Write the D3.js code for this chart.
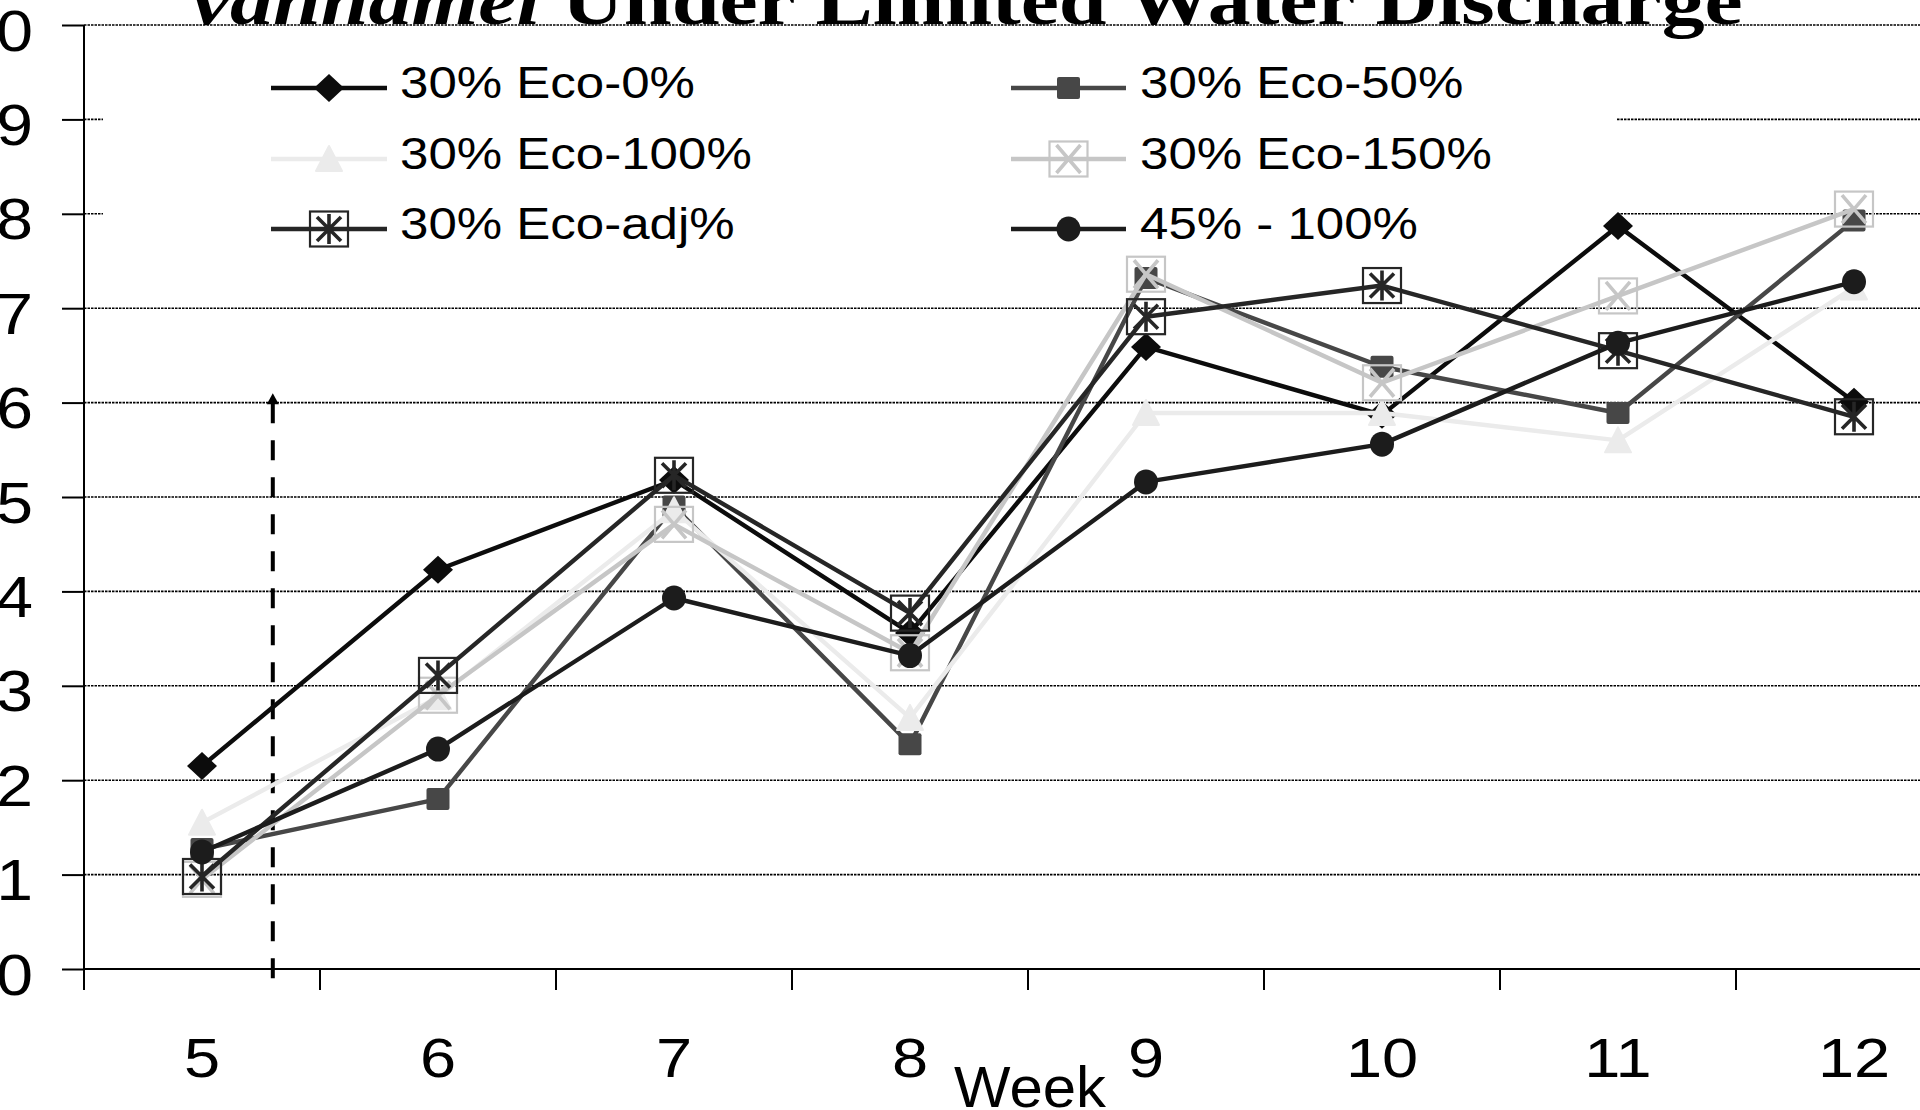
<!DOCTYPE html>
<html>
<head>
<meta charset="utf-8">
<script src="https://cdn.jsdelivr.net/npm/d3@7"></script>
<style>
  html, body { margin: 0; padding: 0; background: #fff; }
  svg { display: block; }
</style>
</head>
<body>
<svg id="chart" width="1920" height="1110"></svg>
<script>
// ---- data ----
const weeks = [5, 6, 7, 8, 9, 10, 11, 12];
const seriesNames = ["30% Eco-0%", "30% Eco-50%", "30% Eco-100%", "30% Eco-150%", "30% Eco-adj%", "45% - 100%"];
const eco0   = [2.15, 4.23, 5.18, 3.56, 6.59, 5.87, 7.87, 6.01];
const eco50  = [1.27, 1.80, 4.90, 2.38, 7.32, 6.38, 5.89, 7.93];
const eco100 = [1.55, 2.88, 4.86, 2.66, 5.89, 5.89, 5.60, 7.22];
const eco150 = [0.95, 2.90, 4.71, 3.35, 7.36, 6.21, 7.13, 8.05];
const ecoAdj = [0.98, 3.11, 5.23, 3.77, 6.91, 7.24, 6.55, 5.85];
const p45    = [1.24, 2.33, 3.93, 3.32, 5.16, 5.56, 6.63, 7.28];
const yTicks = d3.range(0, 11);
const titleItalic = "vannamei";
const titleRest = " Under Limited Water Discharge";
const xTitle = "Week";
// feeding-switch annotation (week position, arrow tip value)
const switchWeek = 5.3, switchTop = 6.1, switchBottom = -0.15;

// ---- styling per series ----
const styles = [
  { marker: "diamond",  color: "#0c0c0c" },
  { marker: "square",   color: "#474747" },
  { marker: "triangle", color: "#ebebeb" },
  { marker: "xbox",     color: "#c6c6c6" },
  { marker: "starbox",  color: "#262626" },
  { marker: "circle",   color: "#1c1c1c" }
];
const seriesValues = [eco0, eco50, eco100, eco150, ecoAdj, p45];
const series = seriesNames.map((name, i) => ({
  name, ...styles[i],
  points: weeks.map((w, j) => ({ week: w, value: seriesValues[i][j] }))
}));

const W = 1920, H = 1110;
const svg = d3.select("#chart");
const SANS = "'Liberation Sans', Arial, sans-serif";
const SX = 1.16; // horizontal stretch of the sans text

// ---- scales ----
const x = d3.scaleBand().domain(weeks).range([84, 1972]).paddingInner(0).paddingOuter(0);
const cx = w => x(w) + x.bandwidth() / 2;
const xw = d3.scaleLinear().domain([weeks[0], weeks[weeks.length - 1]])
  .range([cx(weeks[0]), cx(weeks[weeks.length - 1])]);
const y = d3.scaleLinear().domain([0, 10]).range([969, 25]);
const x0 = x.range()[0];

// ---- gridlines ----
svg.append("g").selectAll("line")
  .data(yTicks.filter(v => v > 0))
  .join("line")
  .attr("x1", x0).attr("x2", W)
  .attr("y1", d => y(d)).attr("y2", d => y(d))
  .attr("stroke", "#000").attr("stroke-width", 1.6)
  .attr("stroke-dasharray", "2.5 1");

// ---- legend background (sits over gridlines, under the series) ----
const legendBox = { x: 103, y: 36, w: 1514, h: 220 };
svg.append("rect")
  .attr("x", legendBox.x).attr("y", legendBox.y)
  .attr("width", legendBox.w).attr("height", legendBox.h)
  .attr("fill", "#fff");

// ---- title (top part runs off the canvas) ----
const titleG = svg.append("g");
const title = titleG.append("text")
  .attr("font-family", "'Liberation Serif', 'Times New Roman', serif")
  .attr("font-weight", "bold").attr("font-size", 70).attr("fill", "#000");
title.append("tspan").attr("font-style", "italic").text(titleItalic);
title.append("tspan").text(titleRest);
const tLen = title.node().getComputedTextLength();
titleG.attr("transform", `translate(192,24) scale(${1551 / tLen},1)`);

// ---- y axis ----
const yAxis = svg.append("g")
  .attr("transform", `translate(${x0},0)`)
  .call(d3.axisLeft(y).tickValues(yTicks).tickSize(22).tickSizeOuter(0).tickFormat(d3.format("d")));
yAxis.select(".domain").remove();
yAxis.selectAll(".tick line").attr("stroke", "#000").attr("stroke-width", 2);
yAxis.selectAll(".tick text")
  .attr("font-family", SANS).attr("font-size", 57).attr("fill", "#000")
  .attr("text-anchor", "end")
  .attr("x", -51 / SX).attr("dy", "0.44em")
  .attr("transform", `scale(${SX},1)`);
svg.append("line")
  .attr("x1", x0).attr("x2", x0).attr("y1", y(10)).attr("y2", y(0) + 21)
  .attr("stroke", "#000").attr("stroke-width", 2);

// ---- x axis ----
svg.append("line")
  .attr("x1", x0).attr("x2", W).attr("y1", y(0)).attr("y2", y(0))
  .attr("stroke", "#000").attr("stroke-width", 2);
const bounds = weeks.map(w => x(w)).concat([x.range()[1]]);
svg.append("g").selectAll("line")
  .data(bounds)
  .join("line")
  .attr("x1", d => d).attr("x2", d => d)
  .attr("y1", y(0)).attr("y2", y(0) + 21)
  .attr("stroke", "#000").attr("stroke-width", 2);
svg.append("g").selectAll("text")
  .data(weeks)
  .join("text")
  .attr("transform", d => `translate(${cx(d)},1077) scale(${SX},1)`)
  .attr("text-anchor", "middle")
  .attr("font-family", SANS).attr("font-size", 56).attr("fill", "#000")
  .text(d => d);
// axis title sits under the boundary between weeks 8 and 9
svg.append("text")
  .attr("transform", `translate(${x(9) + 2},1107) scale(1.05,1)`)
  .attr("text-anchor", "middle")
  .attr("font-family", SANS).attr("font-size", 57).attr("fill", "#000")
  .text(xTitle);

// ---- dashed arrow annotation ----
const ax = xw(switchWeek);
svg.append("line")
  .attr("x1", ax).attr("x2", ax)
  .attr("y1", y(switchTop) + 10).attr("y2", y(switchBottom))
  .attr("stroke", "#000").attr("stroke-width", 4)
  .attr("stroke-dasharray", "20 17");
svg.append("path")
  .attr("d", `M${ax},${y(switchTop)} L${ax - 6},${y(switchTop) + 11} L${ax + 6},${y(switchTop) + 11} Z`)
  .attr("fill", "#000");

// ---- markers ----
function drawMarker(g, type, color) {
  switch (type) {
    case "diamond":
      g.append("path").attr("d", "M0,-14 L15,0 L0,14 L-15,0 Z").attr("fill", color);
      break;
    case "square":
      g.append("rect").attr("x", -11.5).attr("y", -11).attr("width", 23).attr("height", 22)
        .attr("rx", 2).attr("fill", color);
      break;
    case "triangle":
      g.append("path").attr("d", "M0,-13 L13,12 L-13,12 Z")
        .attr("fill", color).attr("stroke", color).attr("stroke-width", 2)
        .attr("stroke-linejoin", "round");
      break;
    case "xbox":
      g.append("rect").attr("x", -19).attr("y", -17.5).attr("width", 38).attr("height", 35)
        .attr("fill", "none").attr("stroke", color).attr("stroke-width", 2.2);
      g.append("path").attr("d", "M-12,-14 L12,14 M12,-14 L-12,14")
        .attr("stroke", color).attr("stroke-width", 3.6).attr("fill", "none");
      break;
    case "starbox":
      g.append("rect").attr("x", -19).attr("y", -17.5).attr("width", 38).attr("height", 35)
        .attr("fill", "none").attr("stroke", color).attr("stroke-width", 2.2);
      g.append("path").attr("d", "M-12,-12 L12,12 M12,-12 L-12,12 M0,-15 L0,15")
        .attr("stroke", color).attr("stroke-width", 3.6).attr("fill", "none");
      break;
    case "circle":
      g.append("ellipse").attr("rx", 12).attr("ry", 12.5).attr("fill", color);
      break;
  }
}

// ---- series ----
const line = d3.line().x(d => cx(d.week)).y(d => y(d.value));
series.forEach(s => {
  const g = svg.append("g");
  g.append("path").datum(s.points)
    .attr("d", line)
    .attr("fill", "none").attr("stroke", s.color).attr("stroke-width", 4.4)
    .attr("stroke-linejoin", "round");
  g.selectAll("g.mk").data(s.points).join("g")
    .attr("class", "mk")
    .attr("transform", d => `translate(${cx(d.week)},${y(d.value)})`)
    .each(function () { drawMarker(d3.select(this), s.marker, s.color); });
});

// ---- legend ----
const legCols = [{ lx1: 271, lx2: 387, tx: 400 }, { lx1: 1011, lx2: 1126, tx: 1140 }];
const legRows = [88, 159, 229];
series.forEach((s, i) => {
  const col = legCols[i % 2], ry = legRows[Math.floor(i / 2)];
  const g = svg.append("g");
  g.append("line").attr("x1", col.lx1).attr("x2", col.lx2).attr("y1", ry).attr("y2", ry)
    .attr("stroke", s.color).attr("stroke-width", 4.5);
  drawMarker(g.append("g").attr("transform", `translate(${(col.lx1 + col.lx2) / 2},${ry})`), s.marker, s.color);
  g.append("text")
    .attr("transform", `translate(${col.tx},${ry + 10}) scale(${SX},1)`)
    .attr("font-family", SANS).attr("font-size", 44).attr("fill", "#000")
    .text(s.name);
});
</script>
</body>
</html>
